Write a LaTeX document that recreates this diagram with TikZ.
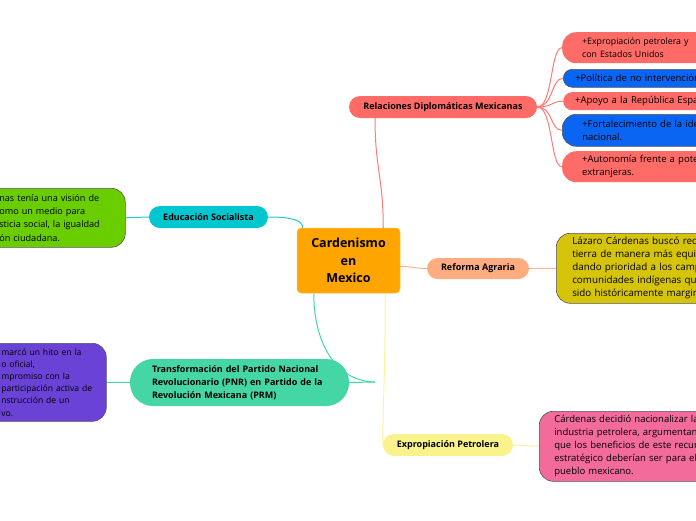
\documentclass[tikz,border=0pt]{standalone}
\usepackage{fontspec}
\setmainfont{Open Sans}
\usetikzlibrary{backgrounds}
\definecolor{cOrange}{HTML}{FFA500}
\definecolor{cCoral}{HTML}{FF6B66}
\definecolor{cBlue}{HTML}{0A66F2}
\definecolor{cPeach}{HTML}{FFAD80}
\definecolor{cOlive}{HTML}{D6C40A}
\definecolor{cCyan}{HTML}{00C6D0}
\definecolor{cLime}{HTML}{6ACD00}
\definecolor{cTeal}{HTML}{45D6A5}
\definecolor{cPurple}{HTML}{6A42D6}
\definecolor{cLemon}{HTML}{FAF28C}
\definecolor{cPink}{HTML}{F36B9B}
\definecolor{cBorder}{HTML}{555555}
\definecolor{lRed}{HTML}{FF7A75}
\definecolor{lPeach}{HTML}{FFB590}
\definecolor{lCyan}{HTML}{22C8D2}
\definecolor{lTeal}{HTML}{45D6A5}
\definecolor{lYellow}{HTML}{FFF39A}
\begin{document}
\begin{tikzpicture}[x=1pt,y=-1pt,
  pill/.style={rounded corners=#1, inner sep=0pt, font=\bfseries\fontsize{9}{12}\selectfont},
  pill/.default=11pt,
  body/.style={anchor=north west, align=left, inner ysep=0pt, rounded corners=#1,
    font=\fontsize{9.5}{13}\selectfont},
  body/.default=14pt,
  bord/.style={draw=cBorder, line width=0.6pt},
  conn/.style={line width=1pt, draw=#1},
]
\useasboundingbox (0,0) rectangle (696,520);
\clip (0,0) rectangle (696,520);

% central
\node[fill=cOrange, draw=cOrange!70!white, line width=0.5pt, rounded corners=4pt, minimum width=103pt, minimum height=65pt,
  align=center, inner sep=0pt, font=\bfseries\fontsize{12.5}{17.5}\selectfont] (cen) at (348.5,260.5) {Cardenismo\\en\\Mexico};

% main branches
\node[pill, fill=cCoral, minimum width=188pt, minimum height=22pt] (rel) at (443,107) {Relaciones Diplomáticas Mexicanas};
\node[pill=10.5pt, fill=cPeach, minimum width=102pt, minimum height=21pt] (ref) at (478,268.5) {Reforma Agraria};
\node[pill, fill=cCyan, minimum width=119pt, minimum height=22pt] (edu) at (208.5,217) {Educación Socialista};
\node[pill=23pt, fill=cTeal, minimum height=47pt, text width=175pt, inner xsep=22pt, align=left,
  font=\bfseries\fontsize{9}{13}\selectfont] (tra) at (239.5,382.5)
  {Transformación del Partido Nacional\\Revolucionario (PNR) en Partido de la\\Revolución Mexicana (PRM)};
\node[pill, fill=cLemon, minimum width=130pt, minimum height=22pt] (exp) at (448,445) {Expropiación Petrolera};

% Relaciones children
\node[body=14pt, fill=cCoral, minimum height=31pt, text width=200pt, inner xsep=20pt,
  font=\fontsize{8.8}{13}\selectfont] (r1) at (562,32)
  {+Expropiación petrolera y\\con Estados Unidos};
\node[body=9pt, fill=cBlue, bord, minimum height=18pt, text width=200pt, inner xsep=12pt] (r2) at (563,69)
  {+Política de no intervención};
\node[body=9pt, fill=cCoral, minimum height=18pt, text width=200pt, inner xsep=12pt] (r3) at (563,92)
  {+Apoyo a la República Española};
\node[body=14pt, fill=cBlue, bord, minimum height=32pt, text width=200pt, inner xsep=20pt] (r4) at (562,114)
  {+Fortalecimiento de la identidad\\nacional.};
\node[body=14pt, fill=cCoral, minimum height=31pt, text width=200pt, inner xsep=20pt] (r5) at (562,151)
  {+Autonomía frente a potencias\\extranjeras.};

% other children
\node[body=14pt, fill=cOlive, bord, minimum height=70pt, text width=200pt, inner xsep=16pt,
  font=\fontsize{9.8}{13}\selectfont] (yel) at (556,233)
  {Lázaro Cárdenas buscó redistribuir\\tierra de manera más equitativa\\dando prioridad a los campesinos\\comunidades indígenas que\\sido históricamente marginadas};
\node[body=14pt, fill=cPink, bord, minimum height=70pt, text width=200pt, inner xsep=15pt] (pnk) at (539,411)
  {Cárdenas decidió nacionalizar la\\industria petrolera, argumentando\\que los beneficios de este recurso\\estratégico deberían ser para el\\pueblo mexicano.};
\node[body=14pt, fill=cLime, bord, minimum height=59pt, text width=112pt, inner xsep=14pt,
  font=\fontsize{9.1}{13.3}\selectfont] (grn) at (-15,188)
  {\mbox{nas tenía una visión de}\\\mbox{omo un medio para}\\\mbox{sticia social, la igualdad}\\\mbox{ón ciudadana.}};
\node[body=14pt, fill=cPurple, bord, minimum height=78pt, text width=91pt, inner xsep=14pt,
  font=\fontsize{8.6}{12.2}\selectfont] (pur) at (-13,343)
  {\mbox{marcó un hito en la}\\\mbox{o oficial,}\\\mbox{mpromiso con la}\\\mbox{participación activa de}\\\mbox{nstrucción de un}\\\mbox{vo.}};

\coordinate (tend) at (375,382);

\begin{scope}[on background layer]
\draw[conn=lRed] ([xshift=-17pt]cen.north east) .. controls +(0,-50) and +(0,50) .. ([xshift=-68pt]rel.south);
\foreach \c in {r1,r2,r3,r4,r5}
  \draw[conn=lRed] (rel.east) .. controls +(16,0) and +(-12,0) .. (\c.west);
\draw[conn=lPeach] ([yshift=-6pt]cen.east) .. controls +(12,0) and +(-12,0) .. (ref.west);
\draw[conn=lPeach] (ref.east) -- (yel.west);
\draw[conn=lCyan] (grn.east) -- (edu.west);
\draw[conn=lCyan] (edu.east) .. controls +(22,0) and +(0,-8) .. ([xshift=6pt]cen.north west);
\draw[conn=lTeal] (pur.east) -- (tra.west);
\draw[conn=lTeal] ([xshift=17pt]cen.south west) .. controls +(0,55) and +(-35,0) .. (tend);
\draw[conn=lTeal] (tra.east) -- (tend);
\draw[conn=lYellow] ([xshift=-15pt]cen.south east) .. controls +(0,80) and +(0,-40) .. (exp.west);
\draw[conn=lYellow] (exp.east) -- (pnk.west);
\end{scope}
\end{tikzpicture}
\end{document}
